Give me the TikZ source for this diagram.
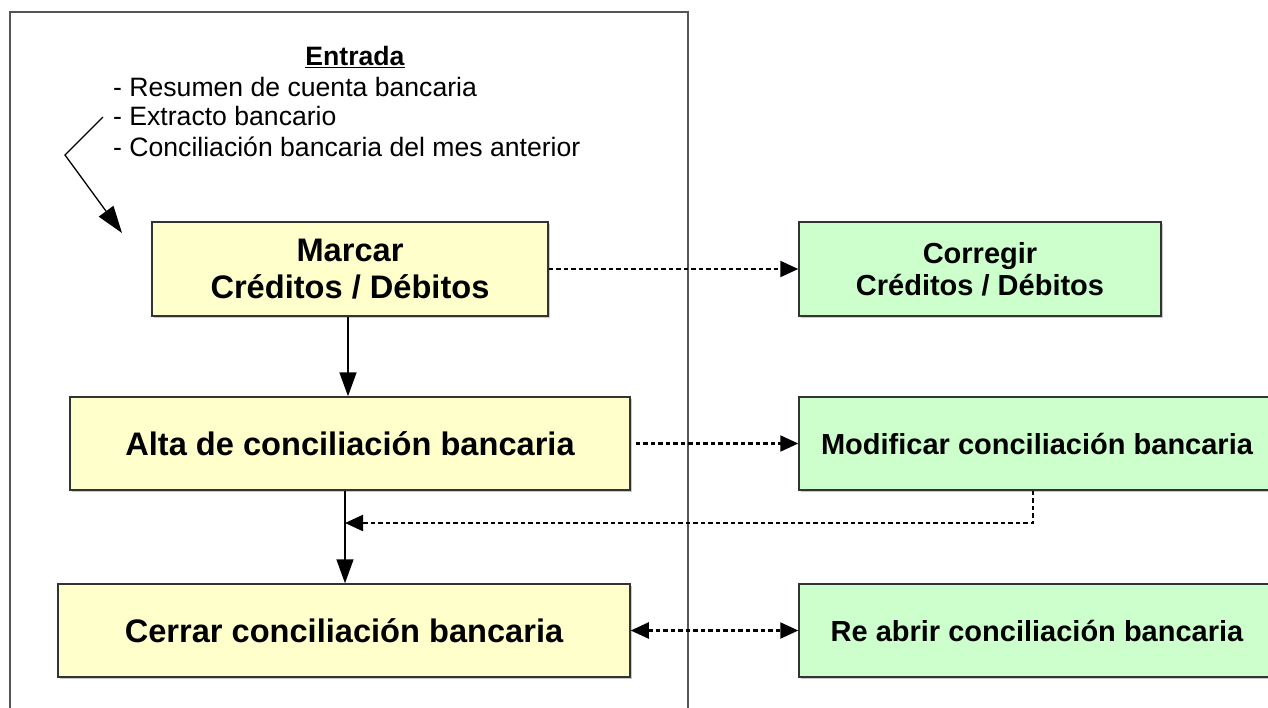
\documentclass[tikz,border=0pt]{standalone}
\usepackage{fontspec}
\setmainfont{Liberation Sans}
\usetikzlibrary{arrows.meta,shadows}
\definecolor{boxyellow}{HTML}{FFFFCC}
\definecolor{boxgreen}{HTML}{CCFFCC}
\definecolor{framegray}{HTML}{555555}
\definecolor{edgegray}{HTML}{333333}
\tikzset{
  procbox/.style={draw=edgegray, line width=1.5pt, inner sep=0pt, align=center,
    drop shadow={shadow xshift=1.5pt, shadow yshift=-1.5pt, fill=black!35, opacity=0.6}},
  yellowbox/.style={procbox, fill=boxyellow, font=\bfseries\fontsize{32.6}{37}\selectfont},
  greenbox/.style={procbox, fill=boxgreen, font=\bfseries\fontsize{29}{32}\selectfont},
  flow/.style={line width=1.6pt, -{Triangle[length=24pt,width=17pt]}},
  dflow/.style={line width=2.2pt, dash pattern=on 4.5pt off 3pt, -{Triangle[length=18pt,width=16pt]}},
  ddflow/.style={line width=2.2pt, dash pattern=on 4.5pt off 3pt, {Triangle[length=18pt,width=16pt]}-{Triangle[length=18pt,width=16pt]}},
  inputtext/.style={font=\fontsize{26.6}{30}\selectfont, inner sep=0pt, anchor=west},
}
\begin{document}
\begin{tikzpicture}[x=1pt,y=-1pt]
\clip (0,0) rectangle (1268,707);
\useasboundingbox (0,0) rectangle (1268,707);
\fill[white] (0,0) rectangle (1268,707);
% frame
\draw[framegray, line width=1.8pt] (10,730) -- (10,12) -- (688,12) -- (688,730);
% input text
\node[font=\bfseries\fontsize{26.6}{30}\selectfont, inner sep=0pt] (entrada) at (355,57) {\underline{Entrada}};
\node[inputtext] (in1) at (113,87) {- Resumen de cuenta bancaria};
\node[inputtext] (in2) at (113,116) {- Extracto bancario};
\node[inputtext] (in3) at (113,147) {- Conciliación bancaria del mes anterior};
% boxes
\node[yellowbox, minimum width=396pt, minimum height=94pt] (marcar) at (350,269) {Marcar\\Créditos / Débitos};
\node[yellowbox, minimum width=560pt, minimum height=93pt] (alta) at (350,443.5) {Alta de conciliación bancaria};
\node[yellowbox, minimum width=572pt, minimum height=93pt] (cerrar) at (344,630.5) {Cerrar conciliación bancaria};
\node[greenbox, minimum width=362pt, minimum height=94pt] (corregir) at (980,269) {Corregir\\Créditos / Débitos};
\node[greenbox, minimum width=476pt, minimum height=93pt] (modificar) at (1037,443.5) {Modificar conciliación bancaria};
\node[greenbox, minimum width=476pt, minimum height=93pt] (reabrir) at (1037,630.5) {Re abrir conciliación bancaria};
% input arrow
\coordinate (ia) at (103,117);
\coordinate (ib) at (65,155);
\coordinate (ic) at (122,233);
\draw[line width=1.3pt, -{Triangle[length=27pt,width=18pt]}] (ia) -- (ib) -- (ic);
% flows
\draw[flow] ([xshift=-2pt]marcar.south) -- ([xshift=-2pt]marcar.south |- alta.north);
\coordinate (j) at (345,523);
\draw[flow] ([xshift=-5pt]alta.south) -- ([xshift=-5pt]alta.south |- cerrar.north);
\draw[dflow] (marcar.east) -- (corregir.west);
\draw[dflow] ([xshift=5pt]alta.east) -- (modificar.west);
\draw[dflow] ([xshift=-4pt]modificar.south) |- (j);
\draw[ddflow] (cerrar.east) -- (reabrir.west);
\end{tikzpicture}
\end{document}
